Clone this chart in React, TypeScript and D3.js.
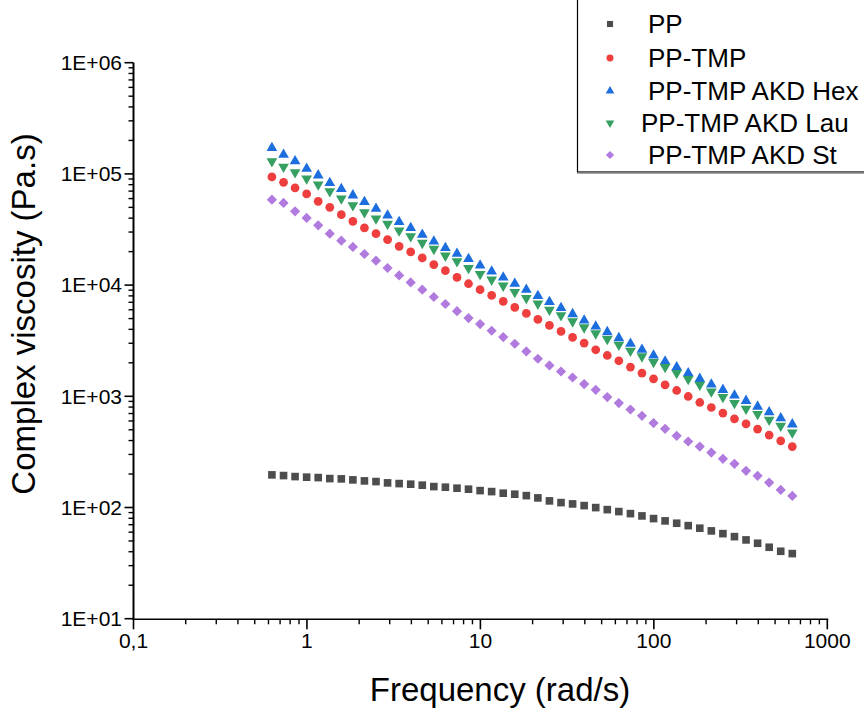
import React from "react";
import * as d3 from "d3";

const FREQ = [0.628, 0.733, 0.854, 0.996, 1.161, 1.354, 1.578, 1.84, 2.145, 2.501, 2.916, 3.4, 3.964, 4.622, 5.389, 6.283,
  7.33, 8.54, 9.96, 11.61, 13.54, 15.78, 18.4, 21.45, 25.01, 29.16, 34.0, 39.64, 46.22, 53.89, 62.83,
  73.3, 85.4, 99.6, 116.1, 135.4, 157.8, 184.0, 214.5, 250.1, 291.6, 340.0, 396.4, 462.2, 538.9, 628.3];

const PP = [196.5, 193.7, 189.7, 187.4, 185.8, 182.0, 180.9, 177.2, 173.5, 171.1, 166.5, 164.1, 162.1, 158.8, 154.2, 152.3,
  149.2, 146.1, 141.9, 139.0, 134.5, 131.7, 127.9, 122.0, 114.7, 110.7, 107.7, 104.0, 99.8, 95.7, 91.9,
  88.1, 84.0, 79.5, 75.8, 72.2, 68.7, 65.1, 61.6, 58.2, 54.7, 51.1, 47.7, 43.9, 40.4, 38.5];

const PP_TMP = [93970, 84030, 74820, 66070, 56680, 50050, 43020, 37450, 32660, 29010, 25630, 22300, 19860, 17540, 15260, 13480,
  11730, 10290, 9090, 8080, 7134, 6299, 5563, 4913, 4338, 3831, 3383, 3012, 2621, 2329, 2087,
  1831, 1617, 1437, 1269, 1128, 996, 880, 793, 706, 627, 566, 507, 448, 398, 353];

const PP_TMP_HEX = [171400, 149100, 129900, 111600, 97100, 83000, 73300, 64190, 55980, 48710, 42400, 36980, 32660, 28420, 24740, 21580,
  19170, 17180, 15040, 13280, 11730, 10290, 9090, 7980, 7046, 6221, 5494, 4812, 4249, 3784, 3341,
  2968, 2621, 2329, 2057, 1831, 1617, 1437, 1277, 1144, 1017, 911, 809, 721, 636, 560];

const PP_TMP_LAU = [129900, 115600, 103400, 90700, 80100, 69720, 59950, 52170, 45110, 39600, 35480, 30880, 27440, 23930, 21130, 18390,
  16340, 14250, 12590, 11180, 9880, 8670, 7654, 6802, 6005, 5338, 4713, 4163, 3676, 3273, 2907,
  2567, 2281, 2032, 1831, 1617, 1428, 1269, 1105, 984, 869, 772, 692, 614, 543, 472];

const PP_TMP_ST = [58700, 54830, 46070, 40180, 34460, 29010, 25100, 22030, 19050, 16580, 14250, 12230, 10580, 9090, 7815, 6760,
  5823, 5057, 4466, 3887, 3412, 2968, 2531, 2176, 1894, 1672, 1476, 1288, 1144, 984, 869,
  761, 668, 574, 510, 441, 392, 353, 312, 274, 247, 213.5, 192.5, 167.5, 144.0, 127.2];

const SERIES_NAMES = ["PP", "PP-TMP", "PP-TMP AKD Hex", "PP-TMP AKD Lau", "PP-TMP AKD St"];
const X_TICKS = [0.1, 1, 10, 100, 1000];
const X_TICK_LABELS = ["0,1", "1", "10", "100", "1000"];
const Y_TICKS = [10, 100, 1000, 10000, 100000, 1000000];
const Y_TICK_LABELS = ["1E+01", "1E+02", "1E+03", "1E+04", "1E+05", "1E+06"];

const FONT = "'Liberation Sans', Arial, sans-serif";

type Shape = "square" | "circle" | "up" | "down" | "diamond";
const SERIES: { name: string; values: number[]; color: string; shape: Shape }[] = [
  { name: SERIES_NAMES[0], values: PP, color: "#4d4d4d", shape: "square" },
  { name: SERIES_NAMES[1], values: PP_TMP, color: "#ee3e3e", shape: "circle" },
  { name: SERIES_NAMES[2], values: PP_TMP_HEX, color: "#1c6ddd", shape: "up" },
  { name: SERIES_NAMES[3], values: PP_TMP_LAU, color: "#35a062", shape: "down" },
  { name: SERIES_NAMES[4], values: PP_TMP_ST, color: "#b07ade", shape: "diamond" },
];

function markerPath(shape: Shape): { d: string; rotate: number } {
  switch (shape) {
    case "square":
      return { d: d3.symbol(d3.symbolSquare, 58)() as string, rotate: 0 };
    case "circle":
      return { d: d3.symbol(d3.symbolCircle, 60)() as string, rotate: 0 };
    case "up":
      return { d: d3.symbol(d3.symbolTriangle, 50)() as string, rotate: 0 };
    case "down":
      return { d: d3.symbol(d3.symbolTriangle, 50)() as string, rotate: 180 };
    case "diamond":
      return { d: d3.symbol(d3.symbolSquare, 52)() as string, rotate: 45 };
  }
}

export default function App() {
  const W = 864, H = 709;
  const x = d3.scaleLog().domain([0.1, 1000]).range([133.5, 827.3]);
  const y = d3.scaleLog().domain([10, 1e6]).range([618.7, 62.7]);
  const axisY = 619.3;
  const spineX = 133.5;

  const xMinor: number[] = [];
  for (let e = -1; e < 3; e++) for (let k = 2; k <= 9; k++) xMinor.push(k * Math.pow(10, e));
  const yMinor: number[] = [];
  for (let e = 1; e < 6; e++) for (let k = 2; k <= 9; k++) yMinor.push(k * Math.pow(10, e));

  const legendRows = [24, 58, 91, 123, 155];
  const legendTextX = [648, 648, 648, 641, 648];

  return (
    <svg width={W} height={H} style={{ position: "absolute", left: 0, top: 0, background: "#fff" }}>
      <rect x={0} y={0} width={W} height={H} fill="#fff" />
      {/* axes */}
      <line x1={spineX - 1} x2={x(1000) + 1} y1={axisY} y2={axisY} stroke="#000" strokeWidth={1.6} />
      <line x1={spineX} x2={spineX} y1={y(1e6)} y2={axisY} stroke="#000" strokeWidth={2} />
      {X_TICKS.map((t, i) => (
        <g key={"xt" + i}>
          <line x1={x(t)} x2={x(t)} y1={axisY} y2={axisY + 10} stroke="#000" strokeWidth={1.6} />
          <text x={x(t)} y={648} textAnchor="middle" fontFamily={FONT} fontSize={21} fill="#000">
            {X_TICK_LABELS[i]}
          </text>
        </g>
      ))}
      {xMinor.map((t, i) => (
        <line key={"xm" + i} x1={x(t)} x2={x(t)} y1={axisY} y2={axisY + 5} stroke="#000" strokeWidth={1.4} />
      ))}
      {Y_TICKS.map((t, i) => (
        <g key={"yt" + i}>
          <line x1={spineX - 9} x2={spineX} y1={y(t)} y2={y(t)} stroke="#000" strokeWidth={1.6} />
          <text x={122} y={y(t)} dy="0.35em" textAnchor="end" fontFamily={FONT} fontSize={21} fill="#000">
            {Y_TICK_LABELS[i]}
          </text>
        </g>
      ))}
      {yMinor.map((t, i) => (
        <line key={"ym" + i} x1={spineX - 5} x2={spineX} y1={y(t)} y2={y(t)} stroke="#000" strokeWidth={1.4} />
      ))}
      {/* titles */}
      <text x={500} y={701} textAnchor="middle" fontFamily={FONT} fontSize={33} fill="#000">
        Frequency (rad/s)
      </text>
      <text
        transform={`translate(35, 314) rotate(-90)`}
        textAnchor="middle"
        fontFamily={FONT}
        fontSize={33}
        fill="#000"
      >
        Complex viscosity (Pa.s)
      </text>
      {/* data */}
      {SERIES.map((s) => {
        const m = markerPath(s.shape);
        return (
          <g key={s.name}>
            {s.values.map((v, i) => (
              <path
                key={i}
                d={m.d}
                fill={s.color}
                transform={`translate(${x(FREQ[i])},${y(v)}) rotate(${m.rotate})`}
              />
            ))}
          </g>
        );
      })}
      {/* legend */}
      <rect x={577.5} y={-1} width={300} height={173} fill="#fff" stroke="#000" strokeWidth={1.2} />
      <line x1={577} x2={864} y1={173.2} y2={173.2} stroke="#888" strokeWidth={1.2} />
      {SERIES.map((s, i) => {
        const m = markerPath(s.shape);
        return (
          <g key={"lg" + i}>
            <path d={m.d} fill={s.color} transform={`translate(610,${legendRows[i]}) rotate(${m.rotate}) scale(0.8)`} />
            <text x={legendTextX[i]} y={legendRows[i] + 9} fontFamily={FONT} fontSize={26} fill="#000">
              {s.name}
            </text>
          </g>
        );
      })}
    </svg>
  );
}
